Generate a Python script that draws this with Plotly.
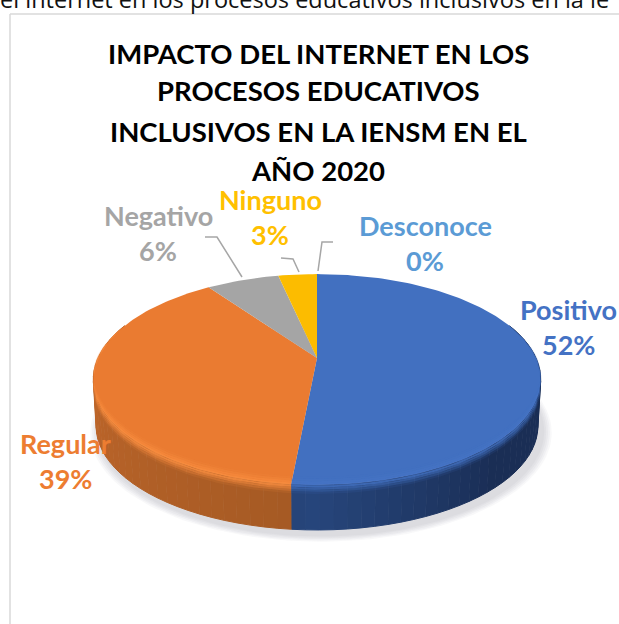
import numpy as np
import plotly.graph_objects as go

# ---------- data ----------
categories = ["Positivo", "Regular", "Negativo", "Ninguno", "Desconoce"]
values = [51.5, 38.7, 6.4, 3.4, 0.0]
percent_labels = ["52%", "39%", "6%", "3%", "0%"]
title_lines = ["IMPACTO DEL INTERNET EN LOS", "PROCESOS EDUCATIVOS",
               "INCLUSIVOS EN LA IENSM EN EL", "AÑO 2020"]
caption = "el internet en los procesos educativos inclusivos en la ie"

# ---------- styles ----------
face_colors = ["#4270c0", "#ea7b31", "#a5a5a5", "#fcbc00", "#5b9bd5"]
label_colors = ["#4472c4", "#ed7d31", "#a5a5a5", "#ffc000", "#5b9bd5"]
side_near = ["#27467c", "#a55a24", "#7a7a7a", "#b98b00", "#3f72a0"]
side_far = ["#1a2e55", "#c4692c", "#6a6a6a", "#a07a00", "#2f5a80"]
highlights = ["#4a78ca", "#f88d40", "#b5b5b5", "#ffcc20", "#6bacdf"]
label_x = [568, 65, 158, 270, 425]
label_y = [309, 443, 215, 199, 225]
LINE_GAP = 35
leaders = {"Negativo": ([205, 217, 242], [237, 237, 277]),
           "Ninguno": ([281, 293, 299], [258, 259, 272]),
           "Desconoce": ([333, 322, 318], [242, 242, 271])}

# ---------- perspective disc ----------
CX, CY, R, A, K, DEPTH = 317, 358, 219, 101, 0.204, 47


def disc(theta, scale=1.0, dx=0.0, dy=0.0):
    u, v = np.sin(theta) * scale, -np.cos(theta) * scale
    d = 1 - K * v
    return CX + R * u / d + dx, CY + A * v / d + dy


def hex_rgb(c):
    return tuple(int(c[i:i + 2], 16) for i in (1, 3, 5))


def mix(c1, c2, t):
    a, b = hex_rgb(c1), hex_rgb(c2)
    return "rgb(%d,%d,%d)" % tuple(a[i] + (b[i] - a[i]) * t for i in range(3))


def rgba(c, alpha):
    return "rgba(%d,%d,%d,%.3f)" % (*hex_rgb(c), alpha)


fig = go.Figure()


def poly(x, y, color, name=None, edge=0):
    fig.add_trace(go.Scatter(x=list(x), y=list(y), mode="lines", fill="toself",
                             fillcolor=color, line=dict(width=edge, color=color),
                             hoverinfo="skip" if name is None else "text",
                             text=name, showlegend=False))


fractions = np.array(values) / sum(values)
edges = np.concatenate([[0], np.cumsum(fractions)]) * 2 * np.pi

# soft shadow
t_all = np.linspace(0, 2 * np.pi, 181)
for s, alpha in [(1.03, 0.16), (1.022, 0.2), (1.014, 0.26), (1.006, 0.32), (0.998, 0.45)]:
    x, y = disc(t_all, s, 4, DEPTH + 5)
    poly(x, y, rgba("#d4d4da", alpha))

# side wall strips
STEP = np.radians(3)
for i in range(len(values)):
    a0, a1 = edges[i], edges[i + 1]
    if a1 <= a0:
        continue
    lo, hi = max(a0, np.radians(70)), min(a1, np.radians(290))
    if hi <= lo:
        continue
    n = max(1, int(np.ceil((hi - lo) / STEP)))
    steps = np.linspace(lo, hi, n + 1)
    for j in range(n):
        tt = np.linspace(steps[j], steps[j + 1], 3)
        xt, yt = disc(tt)
        xb, yb = disc(tt, 0.988, 0, DEPTH)
        near = abs((steps[j] - np.pi)) / np.radians(100)
        col = mix(side_near[i], side_far[i], min(near, 1)) if i == 1 \
            else mix(side_near[i], side_far[i], min(near * 2.2, 1))
        poly(np.r_[xt, xb[::-1]], np.r_[yt, yb[::-1]], col, edge=1)

# top faces
for i, name in enumerate(categories):
    tt = np.linspace(edges[i], edges[i + 1], max(2, int(values[i] * 3)))
    x, y = disc(tt)
    poly(np.r_[CX, x, CX], np.r_[CY, y, CY], face_colors[i], name)

# bevel along the front rim
BANDS = np.linspace(-8, 9, 9)
for i in (0, 1):
    lo, hi = max(edges[i], np.radians(72)), min(edges[i + 1], np.radians(288))
    tt = np.linspace(lo, hi, 70)
    fade = np.clip(np.abs(-np.cos(tt) + 0.25) / 0.6, 0, 1)
    for d0, d1 in zip(BANDS[:-1], BANDS[1:]):
        mid = (d0 + d1) / 2
        if mid < 0:
            color, alpha = highlights[i], (1 + mid / 8) * (0.9 if i == 1 else 0.45)
        else:
            color, alpha = face_colors[i] if i == 0 else highlights[i], 1 - mid / 9
        xa, ya = disc(tt, 1.0, 0, 0)
        yt_b, yb_b = ya + d0 * fade, ya + d1 * fade
        poly(np.r_[xa, xa[::-1]], np.r_[yt_b, yb_b[::-1]], rgba(color, alpha))

# leader lines
for name, (lx, ly) in leaders.items():
    fig.add_trace(go.Scatter(x=lx, y=ly, mode="lines", hoverinfo="skip", showlegend=False,
                             line=dict(color="#a6a6a6", width=1.5)))

# chart frame
fig.add_shape(type="line", x0=10, x1=10, y0=14, y1=624, line=dict(color="#d9d9d9", width=1.5), layer="below")
fig.add_shape(type="line", x0=10, x1=619, y0=14, y1=14, line=dict(color="#d9d9d9", width=1.5), layer="below")

# text
FONT = "Lato, Carlito, Calibri, sans-serif"
for line, yy in zip(title_lines, [53, 90, 131, 170]):
    fig.add_annotation(x=318, y=yy, text="<b>%s</b>" % line, showarrow=False,
                       font=dict(family=FONT, size=27.5, color="#000000"))
for i, name in enumerate(categories):
    for txt, yy in ((name, label_y[i]), (percent_labels[i], label_y[i] + LINE_GAP)):
        fig.add_annotation(x=label_x[i], y=yy, text="<b>%s</b>" % txt, showarrow=False,
                           font=dict(family=FONT, size=27, color=label_colors[i]))

fig.add_annotation(xref="paper", yref="paper", x=-0.003, y=1.03, yanchor="top", xanchor="left",
                   text=caption, showarrow=False,
                   font=dict(family="Open Sans, sans-serif", size=23.5, color="#111111"))

fig.update_layout(width=619, height=624, margin=dict(l=0, r=0, t=0, b=0),
                  paper_bgcolor="white", plot_bgcolor="white",
                  xaxis=dict(range=[0, 619], visible=False, fixedrange=True),
                  yaxis=dict(range=[624, 0], visible=False, fixedrange=True))

fig.write_html("out.html", config={"displayModeBar": False},
               post_script="document.body.style.margin='0';")
